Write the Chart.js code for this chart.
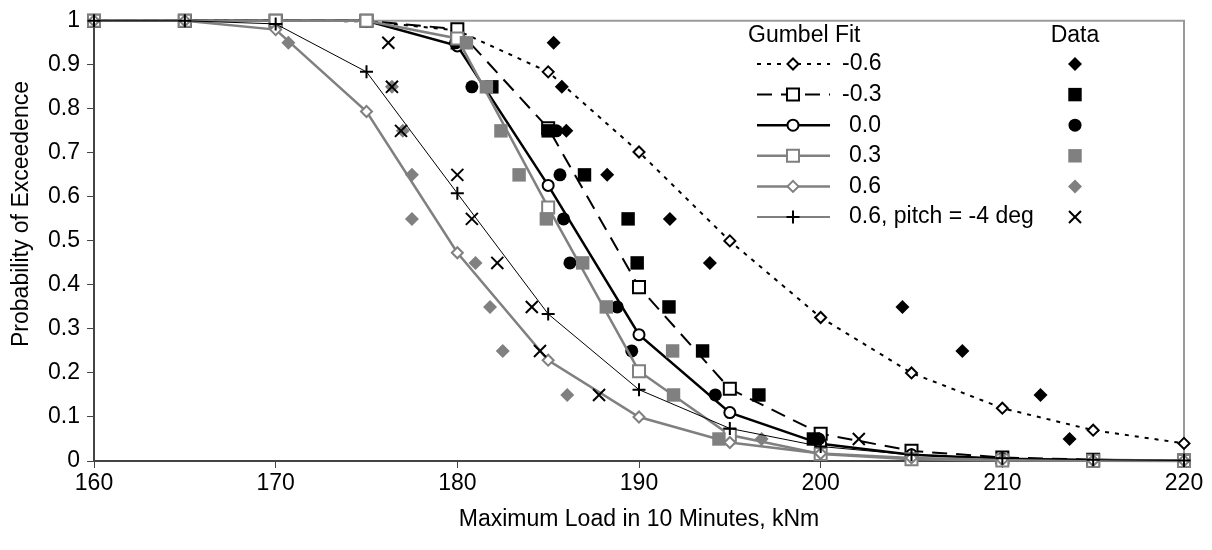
<!DOCTYPE html>
<html>
<head>
<meta charset="utf-8">
<script src="https://cdn.jsdelivr.net/npm/chart.js@4.4.0/dist/chart.umd.min.js"></script>
<style>
  html, body { margin: 0; padding: 0; background: #fff; }
  #wrap { width: 1212px; height: 550px; }
</style>
</head>
<body>
<div id="wrap"><canvas id="c" width="1212" height="550"></canvas></div>
<script>
// Load grid of the fitted Gumbel curves (kNm)
const loads = [160, 165, 170, 175, 180, 185, 190, 195, 200, 205, 210, 215, 220];

// Fitted probability of exceedence at each load
const fitNeg06  = [1, 1, 1, 0.999, 0.978, 0.884, 0.702, 0.500, 0.326, 0.200, 0.120, 0.070, 0.040];
const fitNeg03  = [1, 1, 1, 1, 0.981, 0.756, 0.395, 0.164, 0.062, 0.023, 0.008, 0.003, 0.001];
const fitZero   = [1, 1, 1, 1, 0.943, 0.626, 0.287, 0.110, 0.039, 0.014, 0.005, 0.002, 0.001];
const fitPos03  = [1, 1, 1, 1, 0.960, 0.576, 0.204, 0.059, 0.016, 0.004, 0.001, 0.0003, 0.0001];
const fitPos06  = [1, 1, 0.980, 0.794, 0.473, 0.229, 0.100, 0.042, 0.017, 0.007, 0.003, 0.001, 0.0005];
const fitPitch  = [1, 1, 0.993, 0.884, 0.608, 0.334, 0.162, 0.074, 0.033, 0.014, 0.006, 0.003, 0.001];

// Plotting positions of the ten ranked maxima
const dataProb = [0.95, 0.85, 0.75, 0.65, 0.55, 0.45, 0.35, 0.25, 0.15, 0.05];

// Ranked 10-minute maximum loads (kNm)
const dataNeg06 = [185.3, 185.75, 186.0, 188.25, 191.7, 193.9, 204.5, 207.8, 212.1, 213.7];
const dataNeg03 = [180.0, 181.9, 185.0, 187.0, 189.4, 189.9, 191.65, 193.5, 196.6, 199.6];
const dataZero  = [179.9, 180.8, 185.45, 185.65, 185.85, 186.2, 188.8, 189.6, 194.2, 199.9];
const dataPos03 = [180.5, 181.6, 182.4, 183.4, 184.9, 186.9, 188.2, 191.85, 191.9, 194.4];
const dataPos06 = [170.7, 176.4, 177.0, 177.5, 177.5, 181.0, 181.8, 182.5, 186.05, 196.75];
const dataPitch = [176.2, 176.4, 176.9, 180.0, 180.8, 182.2, 184.1, 184.55, 187.8, 202.1];

// Axis ticks
const xTicks = [160, 170, 180, 190, 200, 210, 220];
const yTicks = [0, 0.1, 0.2, 0.3, 0.4, 0.5, 0.6, 0.7, 0.8, 0.9, 1];

const legendLabels = ['-0.6', '-0.3', '0.0', '0.3', '0.6', '0.6, pitch = -4 deg'];

const BLACK = '#000000';
const GRAY = '#808080';
const FONT = '"Liberation Sans", Arial, sans-serif';

const series = [
  { label: legendLabels[0], fit: fitNeg06, data: dataNeg06, color: BLACK, lw: 2,   dash: [4, 6],
    fitShape: 'rectRot', fitR: 5.5, fitW: 2, dataShape: 'rectRot', dataR: 7,   dataW: 0 },
  { label: legendLabels[1], fit: fitNeg03, data: dataNeg03, color: BLACK, lw: 2,   dash: [15, 9],
    fitShape: 'rect',    fitR: 8.5, fitW: 2, dataShape: 'rect',    dataR: 9.5, dataW: 0 },
  { label: legendLabels[2], fit: fitZero,  data: dataZero,  color: BLACK, lw: 2.5, dash: [],
    fitShape: 'circle',  fitR: 5.5, fitW: 2, dataShape: 'circle',  dataR: 6.5, dataW: 0 },
  { label: legendLabels[3], fit: fitPos03, data: dataPos03, color: GRAY,  lw: 2.5, dash: [],
    fitShape: 'rect',    fitR: 8.5, fitW: 2, dataShape: 'rect',    dataR: 9.5, dataW: 0 },
  { label: legendLabels[4], fit: fitPos06, data: dataPos06, color: GRAY,  lw: 2.5, dash: [],
    fitShape: 'rectRot', fitR: 5.5, fitW: 2, dataShape: 'rectRot', dataR: 7,   dataW: 0 },
  { label: legendLabels[5], fit: fitPitch, data: dataPitch, color: BLACK, lw: 1,   dash: [],
    fitShape: 'cross',   fitR: 6.5, fitW: 2, dataShape: 'crossRot', dataR: 8.5, dataW: 2 }
];

const isOpen = s => s !== 'cross' && s !== 'crossRot';

// Each fit is drawn, then its data, in sequence (later ones on top)
const drawList = [];
series.forEach(s => {
  drawList.push({
    type: 'scatter',
    label: 'Gumbel ' + s.label,
    data: loads.map((x, i) => ({ x: x, y: s.fit[i] })),
    showLine: true,
    borderColor: s.color,
    borderWidth: s.lw,
    borderDash: s.dash,
    tension: 0,
    pointStyle: s.fitShape,
    pointRadius: s.fitR,
    pointBorderWidth: s.fitW,
    pointBorderColor: s.color,
    pointBackgroundColor: isOpen(s.fitShape) ? '#ffffff' : s.color,
    pointHoverRadius: s.fitR,
    clip: false
  });
  drawList.push({
    type: 'scatter',
    label: 'Data ' + s.label,
    data: s.data.map((x, i) => ({ x: x, y: dataProb[i] })),
    showLine: false,
    pointStyle: s.dataShape,
    pointRadius: s.dataR,
    pointBorderWidth: s.dataW,
    pointBorderColor: s.color,
    pointBackgroundColor: s.color,
    pointHoverRadius: s.dataR,
    clip: false
  });
});
drawList.forEach((d, k) => { d.order = drawList.length - k; });

function markerPath(ctx, shape, r, x, y) {
  ctx.beginPath();
  if (shape === 'circle') {
    ctx.arc(x, y, r, 0, Math.PI * 2);
  } else if (shape === 'rect') {
    const h = r * Math.SQRT1_2;
    ctx.rect(x - h, y - h, 2 * h, 2 * h);
  } else if (shape === 'rectRot') {
    ctx.moveTo(x - r, y); ctx.lineTo(x, y - r); ctx.lineTo(x + r, y); ctx.lineTo(x, y + r);
    ctx.closePath();
  } else if (shape === 'cross') {
    ctx.moveTo(x - r, y); ctx.lineTo(x + r, y); ctx.moveTo(x, y - r); ctx.lineTo(x, y + r);
  } else if (shape === 'crossRot') {
    const h = r * Math.SQRT1_2;
    ctx.moveTo(x - h, y - h); ctx.lineTo(x + h, y + h); ctx.moveTo(x - h, y + h); ctx.lineTo(x + h, y - h);
  }
}

// Top and right edges of the plot frame, plus the vertical axis title
const framePlugin = {
  id: 'frame',
  beforeDatasetsDraw(chart) {
    const { ctx, chartArea: a } = chart;
    ctx.save();
    ctx.strokeStyle = '#9a9a9a';
    ctx.lineWidth = 2;
    ctx.beginPath();
    ctx.moveTo(a.left, a.top);
    ctx.lineTo(a.right, a.top);
    ctx.lineTo(a.right, a.bottom);
    ctx.stroke();

    ctx.translate(22, 214);
    ctx.rotate(-Math.PI / 2);
    ctx.font = '23px ' + FONT;
    ctx.fillStyle = '#000';
    ctx.textAlign = 'center';
    ctx.textBaseline = 'middle';
    ctx.fillText('Probability of Exceedence', 0, 0);
    ctx.restore();
  }
};

// Two-column key: fitted curves and data markers
const keyPlugin = {
  id: 'key',
  afterDraw(chart) {
    const ctx = chart.ctx;
    const dataX = 1075;
    ctx.save();
    ctx.font = '23px ' + FONT;
    ctx.fillStyle = '#000';
    ctx.textBaseline = 'middle';
    ctx.textAlign = 'left';
    ctx.fillText('Gumbel Fit', 748, 36);
    ctx.textAlign = 'center';
    ctx.fillText('Data', dataX, 36);
    series.forEach((s, i) => {
      const y = 64 + i * 30.6;
      ctx.setLineDash(s.dash);
      ctx.lineWidth = s.lw;
      ctx.strokeStyle = s.color;
      ctx.beginPath();
      ctx.moveTo(757, y);
      ctx.lineTo(830, y);
      ctx.stroke();
      ctx.setLineDash([]);
      // fit marker
      markerPath(ctx, s.fitShape, s.fitR, 793, y);
      ctx.lineWidth = s.fitW;
      if (isOpen(s.fitShape)) { ctx.fillStyle = '#fff'; ctx.fill(); }
      ctx.stroke();
      // data marker
      markerPath(ctx, s.dataShape, s.dataR, dataX, y);
      if (isOpen(s.dataShape)) { ctx.fillStyle = s.color; ctx.fill(); }
      else { ctx.lineWidth = s.dataW; ctx.stroke(); }
      // label
      ctx.fillStyle = '#000';
      ctx.textAlign = 'left';
      ctx.fillText(s.label, s.label.startsWith('-') ? 842 : 849, y);
    });
    ctx.restore();
  }
};

Chart.defaults.font.family = FONT;
Chart.defaults.font.size = 23;
Chart.defaults.color = '#000';

new Chart(document.getElementById('c'), {
  type: 'scatter',
  data: { datasets: drawList },
  options: {
    responsive: false,
    animation: false,
    devicePixelRatio: 1,
    layout: { padding: { left: 0, right: 28, top: 15, bottom: 0 } },
    plugins: { legend: { display: false }, tooltip: { enabled: false } },
    scales: {
      x: {
        type: 'linear',
        min: 160, max: 220,
        afterBuildTicks: sc => { sc.ticks = xTicks.map(v => ({ value: v })); },
        afterFit: sc => { sc.height = 89; },
        ticks: { padding: 2, maxRotation: 0, callback: v => String(v) },
        grid: { drawOnChartArea: false, drawTicks: true, tickLength: 7, color: '#444', lineWidth: 1 },
        border: { display: true, color: '#444', width: 2 },
        title: { display: true, text: 'Maximum Load in 10 Minutes, kNm', font: { size: 23 }, padding: { top: 0, bottom: 17 } }
      },
      y: {
        type: 'linear',
        min: 0, max: 1,
        afterBuildTicks: sc => { sc.ticks = yTicks.map(v => ({ value: v })); },
        afterFit: sc => { sc.width = 94; },
        ticks: { padding: 7, callback: v => String(Math.round(v * 10) / 10) },
        grid: { drawOnChartArea: false, drawTicks: true, tickLength: 7, color: '#444', lineWidth: 1 },
        border: { display: true, color: '#444', width: 2 },
        title: { display: false }
      }
    }
  },
  plugins: [framePlugin, keyPlugin]
});
</script>
</body>
</html>
